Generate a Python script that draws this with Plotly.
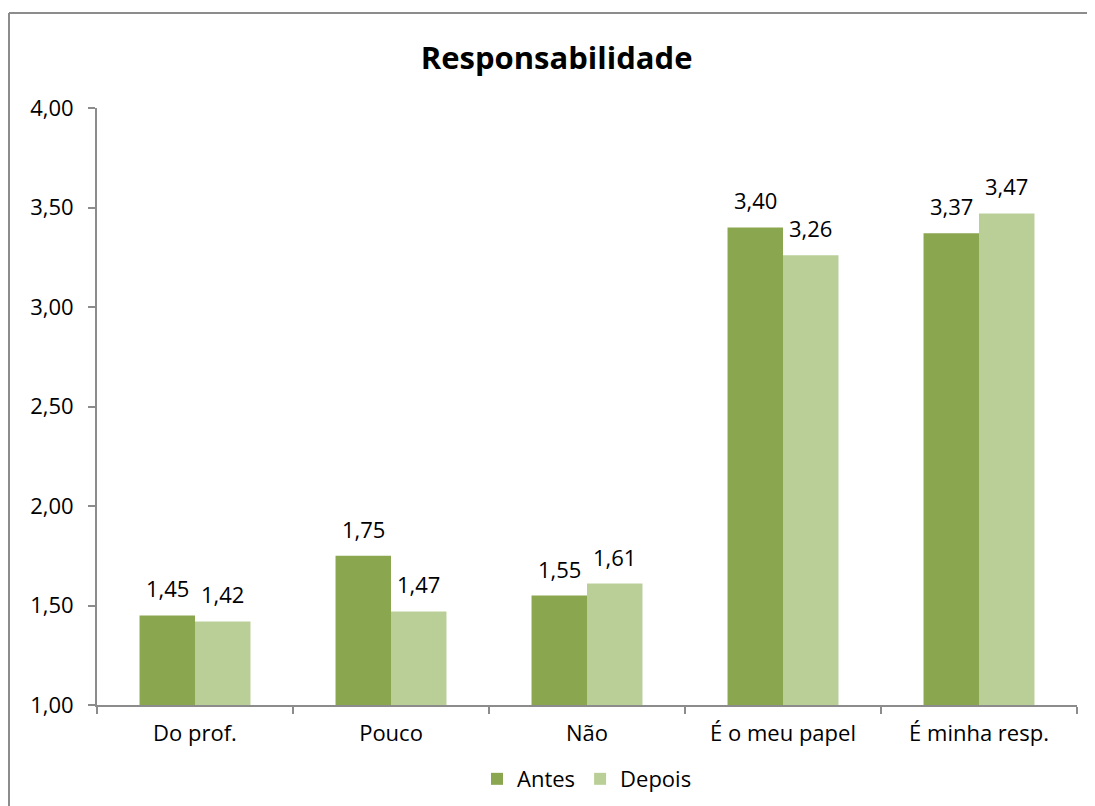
import plotly.graph_objects as go

CATEGORIES = ["Do prof.", "Pouco", "Não", "É o meu papel", "É minha resp."]
ANTES = [1.45, 1.75, 1.55, 3.40, 3.37]
DEPOIS = [1.42, 1.47, 1.61, 3.26, 3.47]
Y_TICKS = [1.0, 1.5, 2.0, 2.5, 3.0, 3.5, 4.0]
BASE = 1.0

DARK = "#8AA64F"
LIGHT = "#BACF98"
AXIS = "#8C8C8C"
FONT = "Open Sans, Liberation Sans, sans-serif"


def _label(v):
    return f"{v:.2f}".replace(".", ",")


fig = go.Figure()
series = [("Antes", ANTES, DARK, -27.7), ("Depois", DEPOIS, LIGHT, 27.7)]
for name, vals, color, shift in series:
    fig.add_trace(
        go.Bar(
            x=CATEGORIES,
            y=[v - BASE for v in vals],
            base=BASE,
            name=name,
            marker=dict(color=color, line=dict(width=0)),
            hovertext=[_label(v) for v in vals],
        )
    )
    # data labels sit a bit higher than plotly's own "outside" text
    for cat, v in zip(CATEGORIES, vals):
        fig.add_annotation(
            x=cat,
            y=v,
            text=_label(v),
            showarrow=False,
            xshift=shift,
            yanchor="bottom",
            yshift=10,
            font=dict(size=22, color="#000000", family=FONT),
        )

fig.update_layout(
    width=1095,
    height=806,
    paper_bgcolor="white",
    plot_bgcolor="white",
    font=dict(family=FONT, size=22, color="#000000"),
    margin=dict(l=89, r=26, t=100, b=109),
    barmode="group",
    bargap=0.434,
    bargroupgap=0,
    title=dict(
        text="<b>Responsabilidade</b>",
        x=0.501,
        xanchor="center",
        y=0.938,
        yanchor="middle",
        font=dict(size=31, family=FONT),
    ),
    legend=dict(
        orientation="h",
        x=0.5,
        xanchor="center",
        y=-0.124,
        yanchor="middle",
        font=dict(size=22),
        traceorder="normal",
    ),
    showlegend=True,
)
fig.update_xaxes(
    type="category",
    showline=True,
    linecolor=AXIS,
    linewidth=2,
    ticks="outside",
    tickson="boundaries",
    ticklen=7,
    tickcolor=AXIS,
    tickwidth=2,
    showgrid=False,
    ticklabelstandoff=8,
    tickfont=dict(size=22),
)
fig.update_yaxes(
    range=[1.0, 4.0],
    tickvals=Y_TICKS,
    ticktext=[_label(v) for v in Y_TICKS],
    showline=True,
    linecolor=AXIS,
    linewidth=2,
    ticks="outside",
    ticklen=7,
    tickcolor=AXIS,
    tickwidth=2,
    showgrid=False,
    zeroline=False,
    ticklabelstandoff=10,
    tickfont=dict(size=22),
)
# outer chart border: only top and left edges show in the crop
border = dict(color="#8C8C8C", width=2)
fig.add_shape(type="line", xref="paper", yref="paper", x0=-0.0898, x1=1.2, y0=1.159, y1=1.159, line=border)
fig.add_shape(type="line", xref="paper", yref="paper", x0=-0.0898, x1=-0.0898, y0=-0.3, y1=1.159, line=border)

fig.write_html("out.html")
